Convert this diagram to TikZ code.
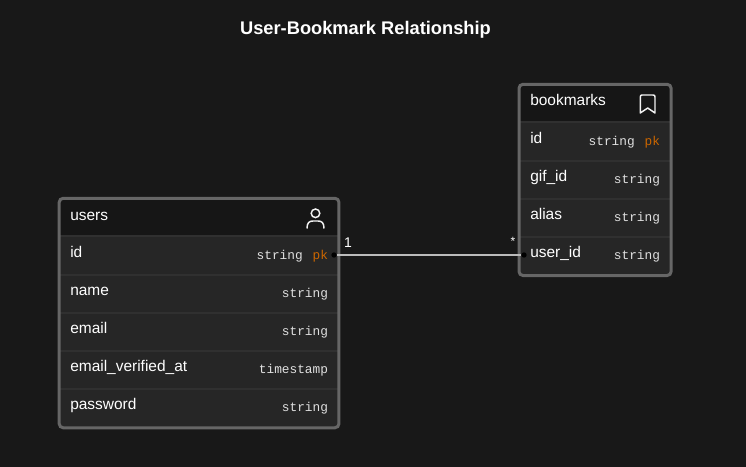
\documentclass[tikz,border=0pt]{standalone}
\usepackage{fontspec}
\setmainfont{Liberation Sans}
\setmonofont{Liberation Mono}
\definecolor{bgc}{HTML}{181818}
\definecolor{rowc}{HTML}{262626}
\definecolor{sepc}{HTML}{303030}
\definecolor{edgec}{HTML}{666666}
\definecolor{pkc}{HTML}{CC6600}
\definecolor{linkc}{HTML}{BBBBBB}
\tikzset{
  x=0.75pt,y=-0.75pt,
  namelab/.style={inner sep=0pt,anchor=base west,text=white,font=\fontsize{11.6pt}{13pt}\selectfont},
  typelab/.style={inner sep=0pt,anchor=base east,text=white!88!black,font=\ttfamily\fontsize{9.6pt}{12pt}\selectfont},
  pklab/.style={typelab,text=pkc},
  framebox/.style={draw=edgec,line width=2.25pt,rounded corners=3pt,outer sep=0pt,inner sep=0pt,anchor=north west},
  rowsep/.style={draw=sepc,line width=1.5pt},
  iconline/.style={draw=white!95!black,line width=1.1pt},
  dotnode/.style={circle,fill=black,inner sep=0pt,minimum size=4pt},
  link/.style={draw=linkc,line width=1.5pt},
  cardlab/.style={inner sep=0pt,anchor=base,text=white,font=\fontsize{10.5pt}{12pt}\selectfont},
  starlab/.style={inner sep=0pt,anchor=base,text=white,font=\fontsize{9pt}{10pt}\selectfont}
}
\begin{document}
\begin{tikzpicture}
\fill[bgc] (0,0) rectangle (746,467);
\useasboundingbox (0,0) rectangle (746,467);
% users entity
\fill[rowc,rounded corners=3pt] (59,198.5) rectangle (339,428);
\fill[bgc!90!black,rounded corners=3pt] (59,198.5) rectangle (339,220);
\fill[bgc!90!black] (59,215) rectangle (339,236);
\foreach \yy in {236,274.5,313,351,389} \draw[rowsep] (59,\yy) -- (339,\yy);
\node[framebox,minimum width=209.8pt,minimum height=172.1pt] (users) at (59.2,198.3) {};
% bookmarks entity
\fill[rowc,rounded corners=3pt] (519,84.5) rectangle (671,275.7);
\fill[bgc!90!black,rounded corners=3pt] (519,84.5) rectangle (671,106);
\fill[bgc!90!black] (519,101) rectangle (671,122);
\foreach \yy in {122,160.5,198.5,237} \draw[rowsep] (519,\yy) -- (671,\yy);
\node[framebox,minimum width=114.1pt,minimum height=143.4pt] (bookmarks) at (519,84.3) {};
% title
\node[inner sep=0pt,anchor=base,text=white,font=\bfseries\fontsize{13.7pt}{16pt}\selectfont] (title) at (365.5,35) {User-Bookmark Relationship};
% users text
\node[namelab] (uhead) at (70,220) {users};
\node[namelab] (uid) at (70,257) {id};
\node[typelab] (uidt) at (303,259) {string};
\node[pklab] (uidk) at (328.3,259) {pk};
\node[namelab] (uname) at (70,295) {name};
\node[typelab] (unamet) at (328.3,297) {string};
\node[namelab] (umail) at (70,333) {email};
\node[typelab] (umailt) at (328.3,335) {string};
\node[namelab] (uver) at (70,371) {email\_verified\_at};
\node[typelab] (uvert) at (328.3,373) {timestamp};
\node[namelab] (upass) at (70,409) {password};
\node[typelab] (upasst) at (328.3,411) {string};
% bookmarks text
\node[namelab] (bhead) at (530,106) {bookmarks};
\node[namelab] (bid) at (530,143) {id};
\node[typelab] (bidt) at (635,145) {string};
\node[pklab] (bidk) at (660.3,145) {pk};
\node[namelab] (bgif) at (530,181) {gif\_id};
\node[typelab] (bgift) at (660.3,183) {string};
\node[namelab] (balias) at (530,219) {alias};
\node[typelab] (baliast) at (660.3,221) {string};
\node[namelab] (buser) at (530,257) {user\_id};
\node[typelab] (busert) at (660.3,259) {string};
% icons
\draw[iconline] (315.5,213.3) circle (4.3);
\draw[iconline] (307,228.5) .. controls (307,223) and (309,221) .. (313,221) -- (318,221) .. controls (322,221) and (324,223) .. (324,228.5);
\draw[iconline,line join=round] (640.3,113) -- (640.3,97) .. controls (640.3,95.5) and (641,95) .. (642,95) -- (653,95) .. controls (654.5,95) and (655,95.5) .. (655,97) -- (655,113) -- (647.7,108) -- cycle;
% connector
\node[dotnode] (pfrom) at (334,255) {};
\node[dotnode] (pto) at (524,255) {};
\draw[link] (pfrom.east) -- (pto.west);
\node[cardlab] (card1) at (348,247) {1};
\node[starlab] (cardn) at (513,245) {*};
\end{tikzpicture}
\end{document}
